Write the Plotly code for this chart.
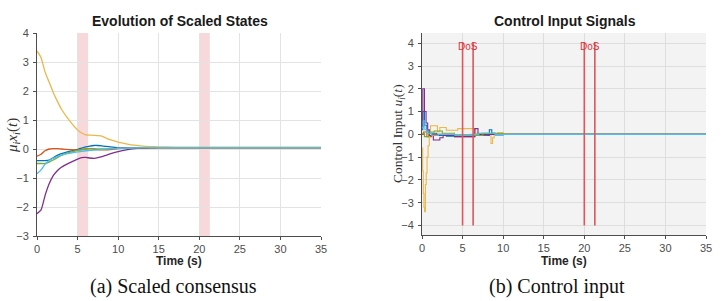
import plotly.graph_objects as go

W, H = 724, 301

# ---------------- data: scaled states (panel a) ----------------
t_states = [0, 0.5, 1, 1.5, 2, 2.5, 3, 4, 5, 5.5, 6, 6.5, 7, 7.5, 8, 8.5, 9, 10, 11, 12, 13, 14, 15, 16, 18, 20, 25, 30, 35]
x_blue   = [-0.40, -0.40, -0.40, -0.38, -0.30, -0.22, -0.16, -0.08, -0.01, 0.03, 0.07, 0.10, 0.12, 0.12, 0.11, 0.09, 0.07, 0.04, 0.04, 0.05, 0.05, 0.05, 0.05, 0.05, 0.05, 0.05, 0.05, 0.05, 0.05]
x_orange = [-0.25, -0.18, -0.06, 0.00, 0.01, 0.01, 0.00, -0.02, -0.03, -0.02, 0.00, 0.01, 0.00, -0.02, -0.03, -0.03, -0.02, 0.01, 0.03, 0.04, 0.05, 0.05, 0.05, 0.05, 0.05, 0.05, 0.05, 0.05, 0.05]
x_yellow = [3.38, 3.15, 2.65, 2.30, 1.95, 1.65, 1.38, 0.98, 0.66, 0.55, 0.49, 0.48, 0.47, 0.46, 0.44, 0.38, 0.32, 0.24, 0.18, 0.13, 0.10, 0.085, 0.075, 0.07, 0.065, 0.06, 0.06, 0.06, 0.06]
x_purple = [-2.23, -2.10, -1.60, -1.20, -0.92, -0.75, -0.63, -0.48, -0.35, -0.30, -0.29, -0.31, -0.32, -0.30, -0.26, -0.22, -0.17, -0.09, -0.03, 0.01, 0.03, 0.04, 0.045, 0.05, 0.05, 0.05, 0.05, 0.05, 0.05]
x_green  = [-0.50, -0.50, -0.50, -0.45, -0.38, -0.30, -0.22, -0.12, -0.05, -0.02, 0.00, 0.01, 0.01, 0.00, 0.00, 0.00, 0.01, 0.02, 0.03, 0.04, 0.05, 0.05, 0.05, 0.05, 0.05, 0.05, 0.05, 0.05, 0.05]
x_cyan   = [-0.85, -0.72, -0.52, -0.40, -0.32, -0.26, -0.21, -0.15, -0.10, -0.08, -0.06, -0.05, -0.04, -0.03, -0.01, 0.00, 0.01, 0.02, 0.03, 0.04, 0.05, 0.05, 0.05, 0.05, 0.05, 0.05, 0.05, 0.05, 0.05]

# ---------------- data: control inputs (panel b) ----------------
t_u_yellow = [0, 0.08, 0.16, 0.24, 0.32, 0.42, 0.52, 0.62, 0.75, 0.9, 1.05, 1.9, 2.2, 3.0, 4.4, 6.6, 8.3, 8.5, 8.7, 8.9, 9.3, 10.0, 11.0, 35]
u_yellow   = [-0.6, -1.6, -2.6, -3.2, -3.4, -2.2, -1.7, -1.0, -0.5, 0.05, 0.38, 0.12, 0.30, 0.18, 0.25, 0.05, 0.0, -0.40, -0.15, 0.05, 0.08, 0.03, 0.0, 0.0]
t_u_purple = [0, 0.1, 0.3, 0.5, 0.7, 0.9, 1.4, 2.2, 2.6, 4.0, 6.5, 6.9, 7.5, 35]
u_purple   = [0.3, 2.0, 1.0, 0.5, 0.2, -0.05, -0.25, -0.15, -0.05, -0.10, 0.25, 0.0, 0.0, 0.0]
t_u_blue   = [0, 0.1, 0.3, 0.6, 1.0, 1.8, 3.0, 6.5, 8.3, 8.6, 9.0, 10.0, 35]
u_blue     = [0.2, 1.0, 0.4, 0.15, 0.05, -0.05, -0.08, -0.05, 0.20, 0.05, -0.03, 0.0, 0.0]
t_u_cyan   = [0, 0.15, 0.35, 0.6, 1.2, 2.0, 4.0, 6.0, 7.0, 9.0, 35]
u_cyan     = [0.3, 0.6, 0.2, 0.05, -0.05, 0.0, -0.03, 0.0, 0.05, 0.0, 0.0]
t_u_green  = [0, 0.3, 0.8, 1.5, 2.5, 4.0, 6.5, 7.5, 9.0, 10.0, 35]
u_green    = [0.05, -0.1, 0.1, 0.15, 0.05, -0.02, -0.05, 0.05, 0.03, 0.0, 0.0]
t_u_orange = [0, 0.2, 0.6, 1.2, 2.5, 4.0, 6.5, 8.0, 10.0, 35]
u_orange   = [0.0, 0.1, -0.1, 0.0, -0.05, -0.10, -0.03, 0.02, 0.0, 0.0]

# DoS attack intervals
dos_start = [5.0, 20.0]
dos_end   = [6.3, 21.3]
dos_label = "DoS"

# tick values
x_ticks = [0, 5, 10, 15, 20, 25, 30, 35]
ya_ticks = [-3, -2, -1, 0, 1, 2, 3, 4]
yb_ticks = [-4, -3, -2, -1, 0, 1, 2, 3, 4]

C = {"blue": "#0072BD", "orange": "#D95319", "yellow": "#E8B84A",
     "purple": "#7E2F8E", "green": "#77AC30", "cyan": "#4DBEEE"}

fig = go.Figure()

# panel a lines
for name, ys in [("blue", x_blue), ("orange", x_orange), ("yellow", x_yellow),
                 ("purple", x_purple), ("green", x_green), ("cyan", x_cyan)]:
    fig.add_trace(go.Scatter(x=t_states, y=ys, mode="lines", line=dict(color=C[name], width=1.3, shape="spline", smoothing=0.6),
                             xaxis="x", yaxis="y", showlegend=False, hoverinfo="skip"))

# panel b lines
for name, ts, us in [("blue", t_u_blue, u_blue), ("orange", t_u_orange, u_orange), ("yellow", t_u_yellow, u_yellow),
                     ("purple", t_u_purple, u_purple), ("green", t_u_green, u_green), ("cyan", t_u_cyan, u_cyan)]:
    fig.add_trace(go.Scatter(x=ts, y=us, mode="lines", line=dict(color=C[name], width=1.1, shape="hv"),
                             xaxis="x2", yaxis="y2", showlegend=False, hoverinfo="skip"))

# DoS red lines in panel b
for s, e in zip(dos_start, dos_end):
    for xv in (s, e):
        fig.add_trace(go.Scatter(x=[xv, xv], y=[-4, 4.05], mode="lines", line=dict(color="#E3545A", width=1.6),
                                 xaxis="x2", yaxis="y2", showlegend=False, hoverinfo="skip"))
    fig.add_annotation(x=(s + e) / 2, y=3.85, xref="x2", yref="y2", text=dos_label, showarrow=False,
                       font=dict(family="Liberation Sans, Arial", size=10, color="#E0303A"))

# DoS shaded regions in panel a
shapes = []
for s, e in zip(dos_start, dos_end):
    shapes.append(dict(type="rect", xref="x", yref="y", x0=s, x1=e, y0=-3, y1=4,
                       fillcolor="rgba(240,170,175,0.45)", line=dict(width=0), layer="below"))

def px(x):
    return x / W

def py(y):
    return 1 - y / H

tickfont = dict(family="Liberation Sans, Arial", size=11, color="#4d4d4d")
axcommon = dict(showgrid=True, gridcolor="#e3e3e3", gridwidth=1, zeroline=False, ticks="outside",
                ticklen=3, tickcolor="#4d4d4d", tickfont=tickfont, showline=True, linecolor="#4d4d4d", linewidth=1,
                mirror=False, automargin=False)

fig.update_layout(
    width=W, height=H, margin=dict(l=0, r=0, t=0, b=0, autoexpand=False),
    paper_bgcolor="white", plot_bgcolor="white",
    shapes=shapes,
    xaxis=dict(domain=[px(37), px(321)], range=[0, 35], tickvals=x_ticks, anchor="y", **axcommon),
    yaxis=dict(domain=[py(236), py(33)], range=[-3, 4], tickvals=ya_ticks, anchor="x", **axcommon),
    xaxis2=dict(domain=[px(422), px(706)], range=[0, 35], tickvals=x_ticks, anchor="y2", **axcommon),
    yaxis2=dict(domain=[py(235), py(33)], range=[-4.42, 4.45], tickvals=yb_ticks, anchor="x2", **axcommon),
)
fig.update_yaxes(ticklabelstandoff=2)
# gray background for panel b
fig.add_shape(type="rect", xref="x2 domain", yref="y2 domain", x0=0, x1=1, y0=0, y1=1,
              fillcolor="#f3f3f3", line=dict(width=0), layer="below")
fig.update_xaxes(gridcolor="#dedede", selector=dict(anchor="y2"))
fig.update_yaxes(gridcolor="#dedede", selector=dict(anchor="x2"))

ann = [
    dict(text="<b>Evolution of Scaled States</b>", x=px(180), y=py(21), size=14, fam="Liberation Sans, Arial", color="#1a1a1a"),
    dict(text="<b>Control Input Signals</b>", x=px(565), y=py(21), size=14, fam="Liberation Sans, Arial", color="#1a1a1a"),
    dict(text="<b>Time (s)</b>", x=px(179), y=py(261), size=12, fam="Liberation Sans, Arial", color="#262626"),
    dict(text="<b>Time (s)</b>", x=px(564), y=py(261), size=12, fam="Liberation Sans, Arial", color="#262626"),
    dict(text="(a) Scaled consensus", x=px(173), y=py(286), size=20, fam="Liberation Serif, Times New Roman", color="#111111"),
    dict(text="(b) Control input", x=px(557), y=py(286), size=20, fam="Liberation Serif, Times New Roman", color="#111111"),
]
for a in ann:
    fig.add_annotation(text=a["text"], x=a["x"], y=a["y"], xref="paper", yref="paper", showarrow=False,
                       xanchor="center", yanchor="middle", font=dict(family=a["fam"], size=a["size"], color=a["color"]))

fig.add_annotation(text="<i>μ<sub>i</sub>x<sub>i</sub></i>(<i>t</i>)", x=px(13), y=py(136), xref="paper", yref="paper",
                   showarrow=False, textangle=-90, xanchor="center", yanchor="middle",
                   font=dict(family="Liberation Serif, Times New Roman", size=15, color="#333333"))
fig.add_annotation(text="Control Input <i>u<sub>i</sub></i>(<i>t</i>)", x=px(398), y=py(134), xref="paper", yref="paper",
                   showarrow=False, textangle=-90, xanchor="center", yanchor="middle",
                   font=dict(family="Liberation Serif, Times New Roman", size=13.5, color="#333333"))

fig.write_html("out.html", config={"displayModeBar": False},
               post_script="document.body.style.margin='0';document.body.style.overflow='hidden';")
